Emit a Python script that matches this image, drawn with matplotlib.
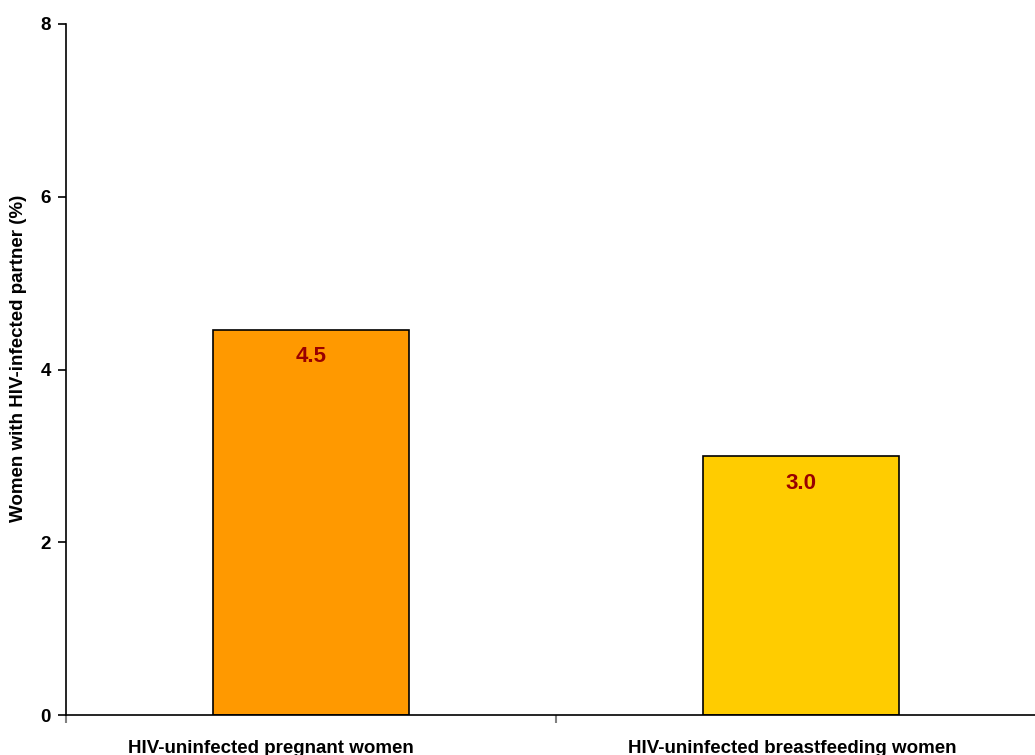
import matplotlib
matplotlib.use("Agg")
import matplotlib.pyplot as plt
from matplotlib.ticker import FixedLocator, NullFormatter
from matplotlib.transforms import ScaledTranslation

categories = ["HIV-uninfected pregnant women", "HIV-uninfected breastfeeding women"]
values = [4.46, 3.0]
value_labels = ["4.5", "3.0"]
colors = ["#FF9900", "#FFCC00"]
yticks = [0, 2, 4, 6, 8]

plt.rcParams['font.family'] = ['Liberation Sans', 'DejaVu Sans']

W, H = 1035, 755
fig = plt.figure(figsize=(W/100, H/100), dpi=100)
left, right, top, bottom = 66, 1046, 24, 715
ax = fig.add_axes([left/W, 1-bottom/H, (right-left)/W, (bottom-top)/H])

x = list(range(len(categories)))
bars = ax.bar(x, values, width=0.4, color=colors, edgecolor='black', linewidth=1.2, zorder=2)
for b, lab in zip(bars, value_labels):
    ax.annotate(lab, (b.get_x()+b.get_width()/2, b.get_height()), xytext=(0, -12),
                textcoords='offset points', ha='center', va='top',
                fontsize=16, fontweight='bold', color='#990000')

ax.set_xlim(-0.5, 1.5)
ax.set_ylim(0, 8)
ax.set_yticks(yticks)
ax.set_yticklabels([str(t) for t in yticks], fontsize=13.5, fontweight='bold')
ax.set_xticks(x)
ax.set_xticklabels(categories, fontsize=13.5, fontweight='bold')
ax.tick_params(axis='x', length=0, pad=18)
shifts = [-40, -9]
for lbl, s in zip(ax.get_xticklabels(), shifts):
    lbl.set_transform(lbl.get_transform() + ScaledTranslation(s/100, 0, fig.dpi_scale_trans))
ax.xaxis.set_minor_locator(FixedLocator([-0.5, 0.5, 1.5]))
ax.xaxis.set_minor_formatter(NullFormatter())
ax.tick_params(axis='x', which='minor', length=6, color='#808080', width=1.5, direction='out')
ax.tick_params(axis='y', length=6, width=1.2, direction='out', pad=5)
ax.set_ylabel("Women with HIV-infected partner (%)", fontsize=13.5, fontweight='bold')
ax.yaxis.label.set(va='center', rotation_mode='anchor')
ax.yaxis.set_label_coords((19-left)/(right-left), (715-358)/(bottom-top))
ax.spines['top'].set_visible(False)
ax.spines['right'].set_visible(False)
ax.spines['left'].set_linewidth(1.2)
ax.spines['bottom'].set_linewidth(1.2)

fig.savefig("out.png", dpi=100)
